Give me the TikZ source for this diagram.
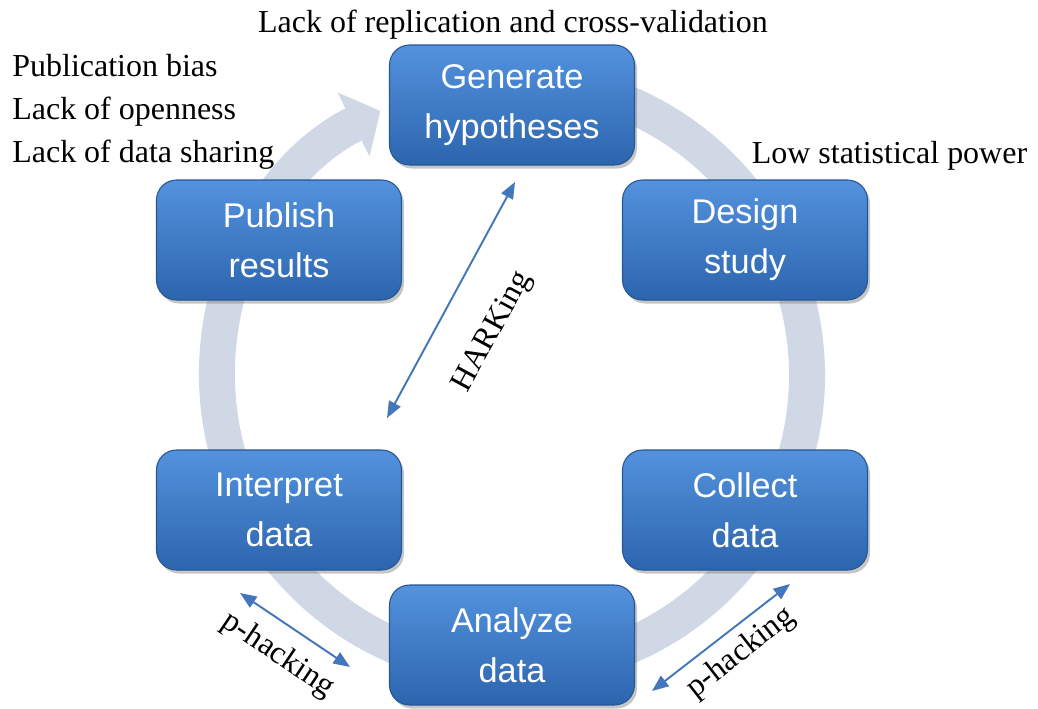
\documentclass[tikz,border=0pt]{standalone}
\usepackage{fontspec}
\setmainfont{Liberation Serif}
\setsansfont{Liberation Sans}
\usepackage{xcolor}
\usepackage{tikz}
\usetikzlibrary{arrows.meta, positioning, shadows}

\definecolor{boxtop}{RGB}{84,146,221}
\definecolor{boxbot}{RGB}{44,101,174}
\definecolor{boxline}{RGB}{38,86,148}
\definecolor{ringgray}{RGB}{208,215,229}
\definecolor{linkblue}{RGB}{68,118,188}

\begin{document}
\begin{tikzpicture}[
  block/.style={rectangle, draw=boxline, line width=0.6pt, top color=boxtop, bottom color=boxbot, rounded corners=0.4cm, minimum width=4.9cm, minimum height=2.4cm, text=white, align=center, font=\sffamily\fontsize{19.5}{28.5}\selectfont, drop shadow={shadow xshift=0.05cm, shadow yshift=-0.07cm, opacity=0.45}},
  ring/.style={line width=0.72cm, draw=ringgray, -{Triangle[length=0.6cm, width=1.4cm]}},
  dblarrow/.style={{Triangle[length=0.33cm, width=0.26cm]}-{Triangle[length=0.33cm, width=0.26cm]}, draw=linkblue, line width=1.1pt},
  note/.style={font=\fontsize{18.2}{24.4}\selectfont, inner sep=0pt}
]

\useasboundingbox (-10.24,-6.66) rectangle (10.52,7.5);

% Cycle ring
\draw[ring] (100:5.9) arc[start angle=100, end angle=-243.5, radius=5.9];

% Steps of the cycle
\node[block] (gen) at (0,5.4) {Generate\\hypotheses};
\node[block] (design) at (4.66,2.7) {Design\\study};
\node[block] (collect) at (4.66,-2.7) {Collect\\data};
\node[block] (analyze) at (0,-5.4) {Analyze\\data};
\node[block] (interp) at (-4.66,-2.7) {Interpret\\data};
\node[block] (publish) at (-4.66,2.7) {Publish\\results};

% Threats
\node[note, anchor=base] (replic) at (0.02,6.86) {Lack of replication and cross-validation};
\node[note, anchor=base] (power) at (7.55,4.24) {Low statistical power};
\node[note, anchor=north west, align=left] (bias) at (-10.0,6.42) {Publication bias\\Lack of openness\\Lack of data sharing};

% HARKing
\coordinate (hk1) at (0.06,3.86);
\coordinate (hk2) at (-2.5,-0.86);
\draw[dblarrow] (hk2) -- (hk1);
\node[note, rotate=61.5] (harking) at (-0.38,0.86) {HARKing};

% p-hacking
\coordinate (ph1) at (-5.44,-4.36);
\coordinate (ph2) at (-3.24,-5.84);
\draw[dblarrow] (ph1) -- (ph2);
\node[note, rotate=-34] (phackl) at (-4.68,-5.6) {p-hacking};

\coordinate (ph3) at (2.8,-6.32);
\coordinate (ph4) at (5.56,-4.18);
\draw[dblarrow] (ph3) -- (ph4);
\node[note, rotate=38] (phackr) at (4.58,-5.56) {p-hacking};

\end{tikzpicture}
\end{document}
